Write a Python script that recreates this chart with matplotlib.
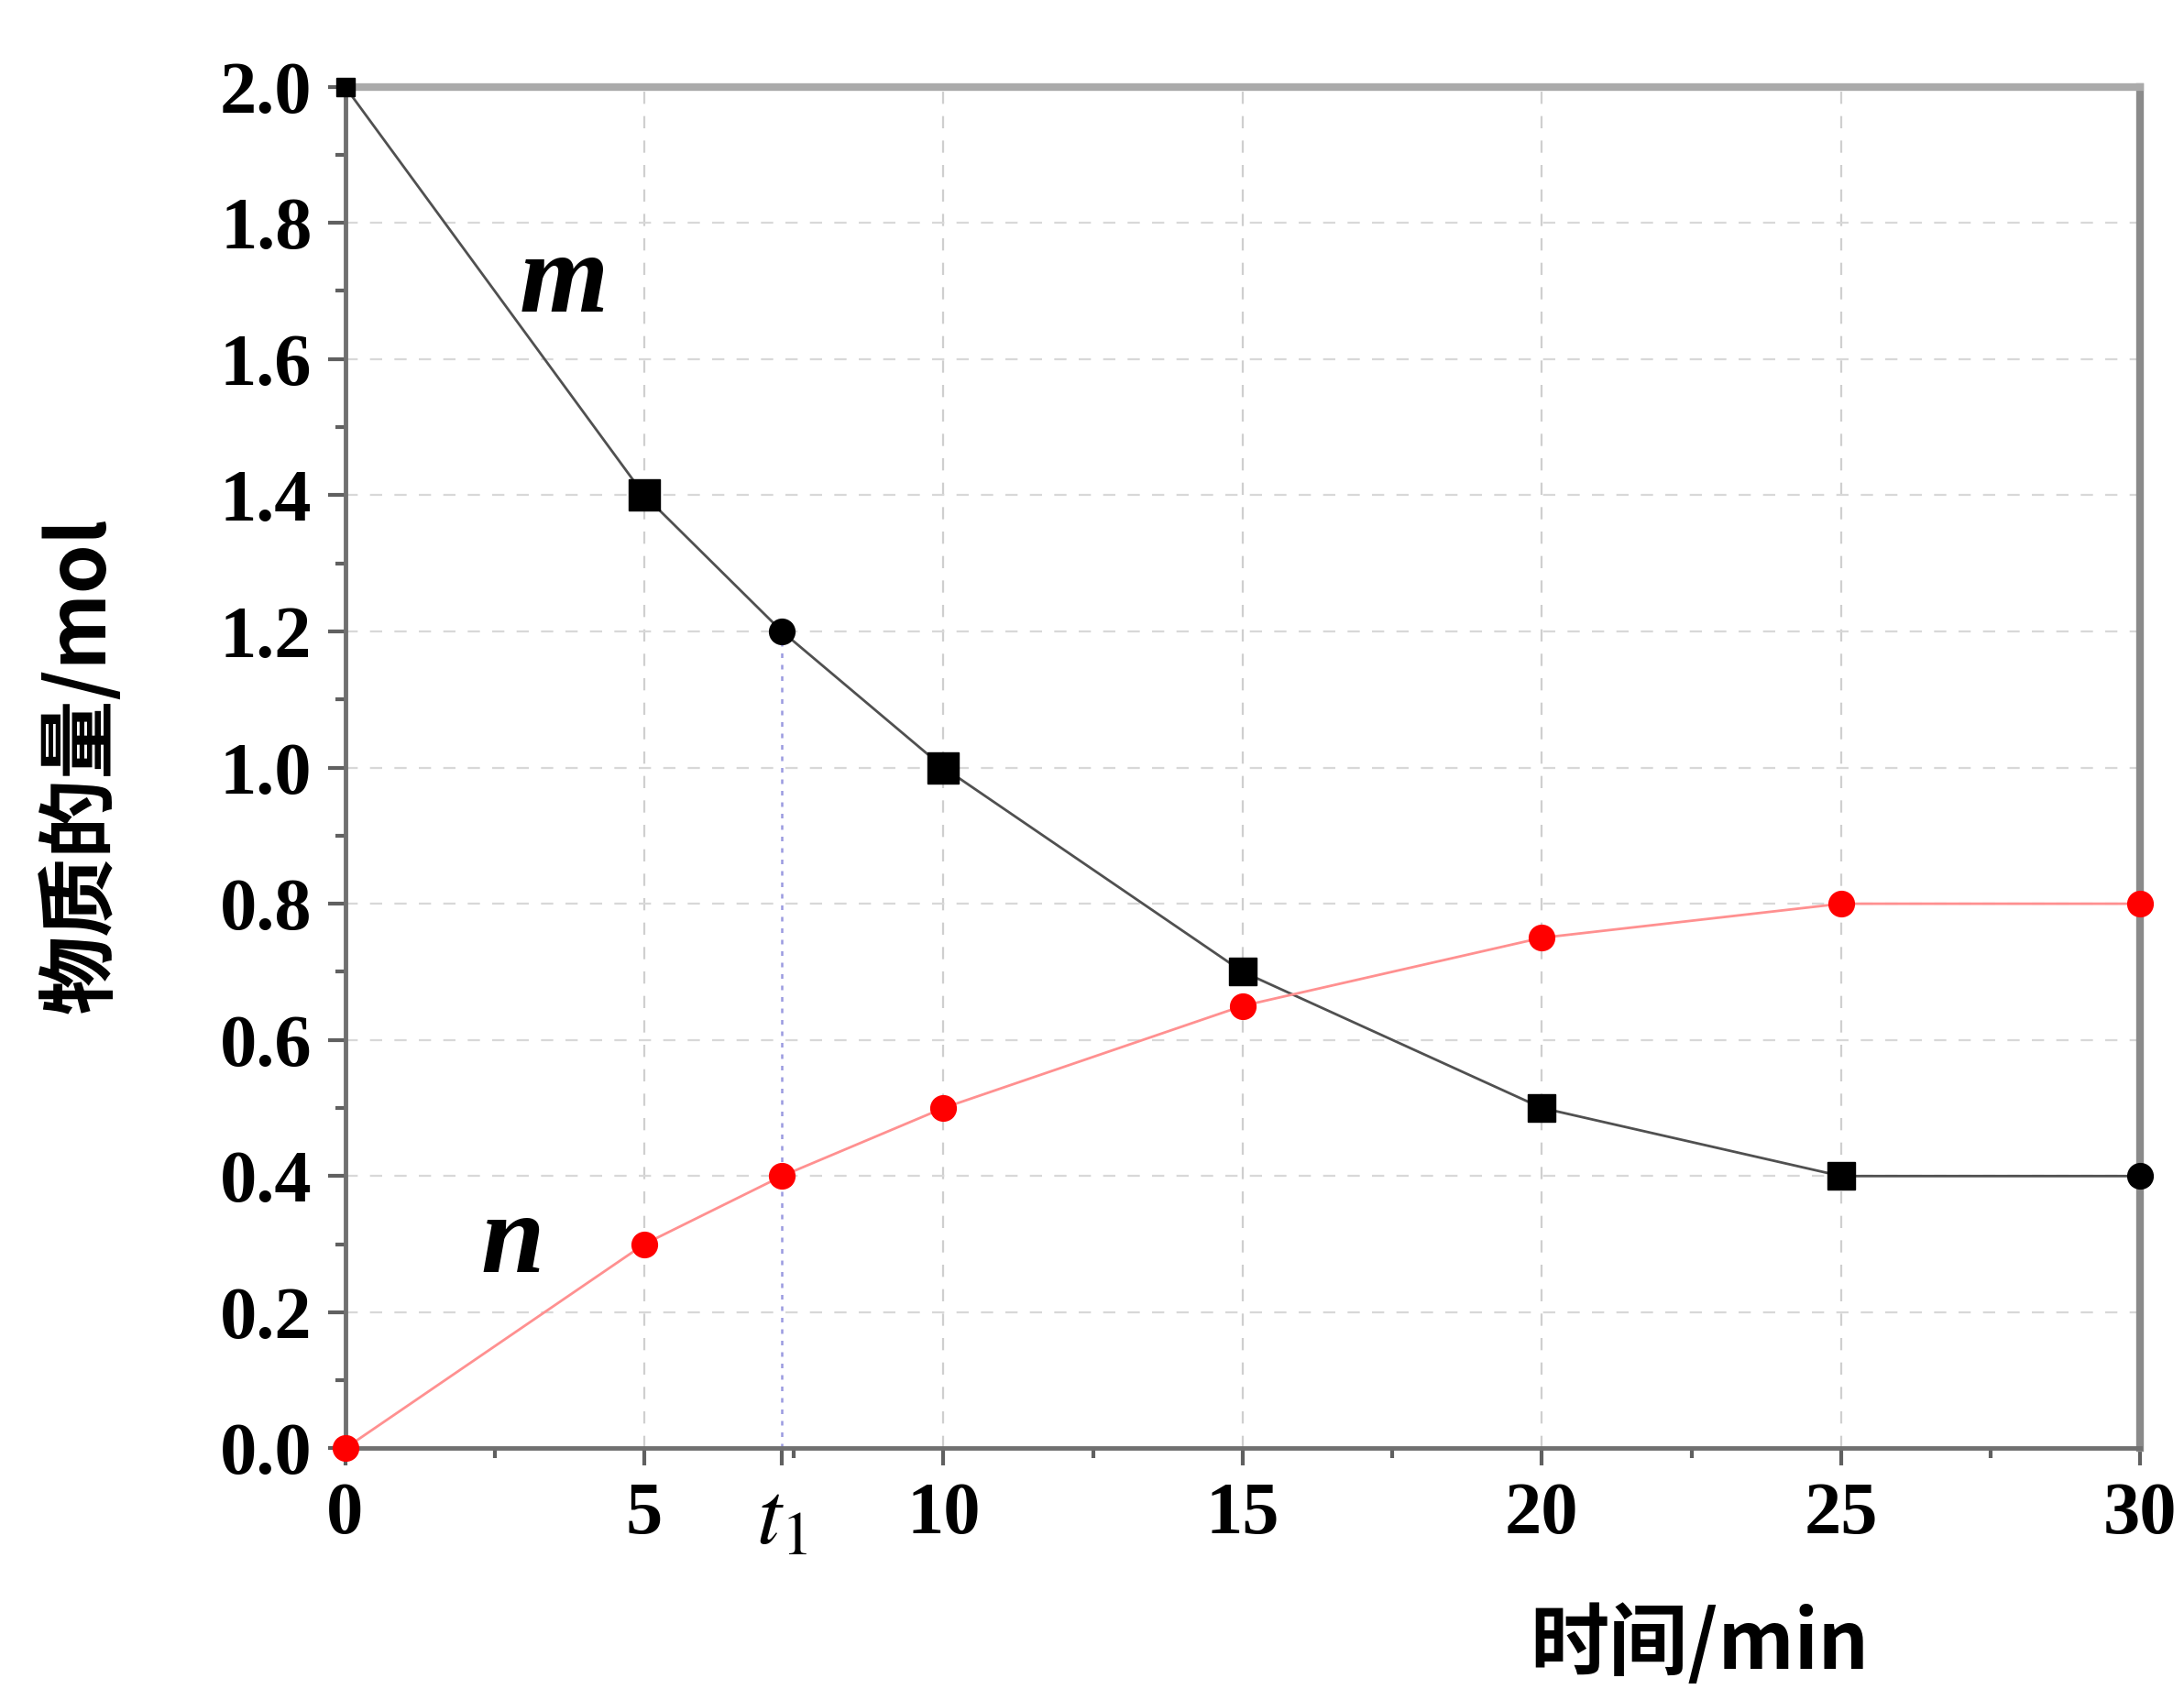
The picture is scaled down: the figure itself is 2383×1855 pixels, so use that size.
import numpy as np
import matplotlib
matplotlib.use('Agg')
import matplotlib.pyplot as plt
from matplotlib.ticker import MultipleLocator

plt.rcParams['font.family'] = ['Liberation Serif', 'Noto Sans CJK SC', 'DejaVu Sans']
plt.rcParams['mathtext.fontset'] = 'stix'

# data
t_m = [0, 5, 7.3, 10, 15, 20, 25, 30]
m_vals = [2.0, 1.4, 1.2, 1.0, 0.7, 0.5, 0.4, 0.4]
m_markers = ['s', 's', 'o', 's', 's', 's', 's', 'o']
m_sizes = [14, 24, 20, 24, 22, 22, 22, 20]

t_n = [0, 5, 7.3, 10, 15, 20, 25, 30]
n_vals = [0.0, 0.3, 0.4, 0.5, 0.65, 0.75, 0.8, 0.8]

t1 = 7.3
t1_val = 1.2

x_ticks = [0, 5, 7.3, 10, 15, 20, 25, 30]
x_labels = ['0', '5', r'$t_1$', '10', '15', '20', '25', '30']
y_ticks = [0.0, 0.2, 0.4, 0.6, 0.8, 1.0, 1.2, 1.4, 1.6, 1.8, 2.0]


def main():
    fig = plt.figure(figsize=(23.83, 18.55), dpi=100)
    ax = fig.add_axes([0.158, 0.148, 0.822, 0.801])

    # dashed grid at the major ticks
    for x in [5, 10, 15, 20, 25]:
        ax.axvline(x, color='#cfcfcf', lw=1.6, ls=(0, (6, 6)), zorder=0)
    for y in y_ticks[1:-1]:
        ax.axhline(y, color='#d8d8d8', lw=1.6, ls=(0, (6, 6)), zorder=0)

    # t1 guide line
    ax.plot([t1, t1], [0, t1_val], color='#9a9ae0', lw=1.8, ls=(0, (2, 3)), zorder=1)

    # curves
    ax.plot(t_m, m_vals, color='#505050', lw=2.0, zorder=2)
    for x, y, mk, ms in zip(t_m, m_vals, m_markers, m_sizes):
        ax.plot(x, y, marker=mk, ms=ms, color='black', ls='none', zorder=4, clip_on=False)

    ax.plot(t_n, n_vals, color='#ff9090', lw=2.0, zorder=2)
    ax.plot(t_n, n_vals, 'o', ms=20, color='#ff0000', zorder=3, clip_on=False)

    ax.text(3.65, 1.71, 'm', fontsize=90, fontstyle='italic', fontweight='bold',
            ha='center', va='center', family='Liberation Serif')
    ax.text(2.8, 0.30, 'n', fontsize=90, fontstyle='italic', fontweight='bold',
            ha='center', va='center', family='Liberation Serif')

    ax.set_xlim(0, 30)
    ax.set_ylim(0, 2.0)
    ax.set_xticks(x_ticks)
    ax.set_xticklabels(x_labels)
    ax.set_yticks(y_ticks)
    ax.set_yticklabels(['%.1f' % v for v in y_ticks])
    ax.xaxis.set_minor_locator(MultipleLocator(2.5))
    ax.yaxis.set_minor_locator(MultipleLocator(0.1))
    ax.tick_params(axis='both', which='major', direction='out', length=14, width=3,
                   color='#606060', labelsize=58, pad=12)
    ax.tick_params(axis='both', which='minor', direction='out', length=8, width=3,
                   color='#606060')
    for lab in ax.get_xticklabels() + ax.get_yticklabels():
        lab.set_fontweight('bold')
    ax.get_xticklabels()[2].set_fontsize(70)

    ax.spines['left'].set_color('#707070')
    ax.spines['left'].set_linewidth(3.5)
    ax.spines['bottom'].set_color('#707070')
    ax.spines['bottom'].set_linewidth(3.5)
    ax.spines['top'].set_color('#aaaaaa')
    ax.spines['top'].set_linewidth(6)
    ax.spines['right'].set_color('#8a8a8a')
    ax.spines['right'].set_linewidth(6)

    fig.text(0.037, 0.55, '物质的量/mol', rotation=90, fontsize=62, ha='center', va='center',
             fontweight='bold', family=['Noto Sans CJK SC', 'DejaVu Sans'])
    fig.text(0.778, 0.032, '时间/min', fontsize=62, ha='center', va='center',
             fontweight='bold', family=['Noto Sans CJK SC', 'DejaVu Sans'])

    fig.savefig('out.png', dpi=100)
    plt.close(fig)


if __name__ == '__main__':
    main()
